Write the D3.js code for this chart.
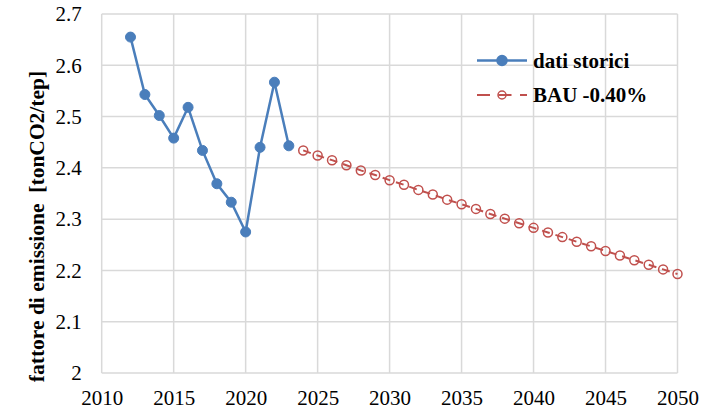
<!DOCTYPE html>
<html>
<head>
  <meta charset="UTF-8">
  <script src="https://cdn.jsdelivr.net/npm/d3@7"></script>
  <style>
    body { margin: 0; background: #fff; }
    #chart text { font-family: "Liberation Serif" !important; }
  </style>
</head>
<body>
  <svg id="chart" width="705" height="411"></svg>
  <script>
    // dati storici
    const histYears = [2012, 2013, 2014, 2015, 2016, 2017, 2018, 2019, 2020, 2021, 2022, 2023];
    const histValues = [2.655, 2.543, 2.502, 2.458, 2.518, 2.434, 2.369, 2.333, 2.275, 2.440, 2.567, 2.443];

    // scenario BAU -0.40%
    const bauYears = [2024, 2025, 2026, 2027, 2028, 2029, 2030, 2031, 2032, 2033, 2034, 2035, 2036,
                      2037, 2038, 2039, 2040, 2041, 2042, 2043, 2044, 2045, 2046, 2047, 2048, 2049, 2050];
    const bauValues = [2.434, 2.424, 2.415, 2.405, 2.395, 2.386, 2.376, 2.367, 2.357, 2.348, 2.338, 2.329, 2.320,
                       2.310, 2.301, 2.292, 2.283, 2.274, 2.265, 2.256, 2.247, 2.238, 2.229, 2.220, 2.211, 2.202, 2.193];

    const xTicks = [2010, 2015, 2020, 2025, 2030, 2035, 2040, 2045, 2050];
    const yTicks = [2, 2.1, 2.2, 2.3, 2.4, 2.5, 2.6, 2.7];
    const legendLabels = ["dati storici", "BAU -0.40%"];
    const yLabel = "fattore di emissione  [tonCO2/tep]";

    const W = 705, H = 411;
    const margin = {top: 14, right: 27.5, bottom: 38, left: 101.7};
    const width = W - margin.left - margin.right,
          height = H - margin.top - margin.bottom;

    const blue = "#4a7ebb", red = "#c0504d", grid = "#d9d9d9";
    const fs = 21;

    const svg = d3.select("#chart");
    const g = svg.append("g").attr("transform", `translate(${margin.left}, ${margin.top})`);

    const x = d3.scaleLinear().domain([2010, 2050]).range([0, width]);
    const y = d3.scaleLinear().domain([2, 2.7]).range([height, 0]);

    // griglia
    g.append("g").selectAll("line").data(xTicks).join("line")
      .attr("x1", d => x(d)).attr("x2", d => x(d))
      .attr("y1", 0).attr("y2", height)
      .attr("stroke", grid).attr("stroke-width", 1.5);
    g.append("g").selectAll("line").data(yTicks).join("line")
      .attr("x1", 0).attr("x2", width)
      .attr("y1", d => y(d)).attr("y2", d => y(d))
      .attr("stroke", grid).attr("stroke-width", 1.5);

    // assi
    const xAxis = d3.axisBottom(x).tickValues(xTicks).tickFormat(d3.format("d")).tickSize(0).tickPadding(17);
    g.append("g").attr("transform", `translate(0, ${height})`).call(xAxis)
      .attr("font-family", "Liberation Serif").attr("font-size", fs)
      .call(a => a.select(".domain").remove())
      .selectAll("text").attr("fill", "#000");

    const yAxis = d3.axisLeft(y).tickValues(yTicks).tickFormat(d => d === 2 ? "2" : d3.format(".1f")(d)).tickSize(0).tickPadding(20);
    g.append("g").call(yAxis)
      .attr("font-family", "Liberation Serif").attr("font-size", fs)
      .call(a => a.select(".domain").remove())
      .selectAll("text").attr("fill", "#000");

    g.append("text")
      .attr("transform", `translate(${36 - margin.left}, ${height / 2 + 33}) rotate(-90)`)
      .attr("text-anchor", "middle")
      .attr("dy", "0.35em")
      .attr("font-family", "Liberation Serif")
      .attr("font-size", 21.5).attr("font-weight", "bold")
      .style("white-space", "pre")
      .text(yLabel);

    const hist = histYears.map((yr, i) => [yr, histValues[i]]);
    const bau = bauYears.map((yr, i) => [yr, bauValues[i]]);
    const line = d3.line().x(d => x(d[0])).y(d => y(d[1]));

    // BAU
    g.append("path").attr("d", line(bau)).attr("fill", "none")
      .attr("stroke", red).attr("stroke-width", 2).attr("stroke-dasharray", "8,6");
    g.append("g").selectAll("circle").data(bau).join("circle")
      .attr("cx", d => x(d[0])).attr("cy", d => y(d[1])).attr("r", 4.5)
      .attr("fill", "none").attr("stroke", red).attr("stroke-width", 1.5);

    // storici
    g.append("path").attr("d", line(hist)).attr("fill", "none")
      .attr("stroke", blue).attr("stroke-width", 2.5);
    g.append("g").selectAll("circle").data(hist).join("circle")
      .attr("cx", d => x(d[0])).attr("cy", d => y(d[1])).attr("r", 5)
      .attr("fill", blue).attr("stroke", blue).attr("stroke-width", 1);

    // legenda
    const legColors = [blue, red];
    const leg = svg.append("g").selectAll("g").data(legendLabels).join("g")
      .attr("transform", (d, i) => `translate(477, ${60.5 + i * 34.5})`);
    leg.append("line").attr("x1", 0).attr("x2", 50).attr("y1", 0).attr("y2", 0)
      .attr("stroke", (d, i) => legColors[i])
      .attr("stroke-width", (d, i) => i ? 2 : 2.5)
      .attr("stroke-dasharray", (d, i) => i ? "13,8.5" : null);
    leg.append("circle").attr("cx", 25).attr("cy", 0)
      .attr("r", (d, i) => i ? 4 : 5)
      .attr("fill", (d, i) => i ? "none" : blue)
      .attr("stroke", (d, i) => legColors[i]).attr("stroke-width", 1.5);
    leg.append("text").attr("x", 56).attr("y", 0).attr("dy", "0.35em")
      .attr("font-family", "Liberation Serif")
      .attr("font-size", fs).attr("font-weight", "bold")
      .text(d => d);
  </script>
</body>
</html>
